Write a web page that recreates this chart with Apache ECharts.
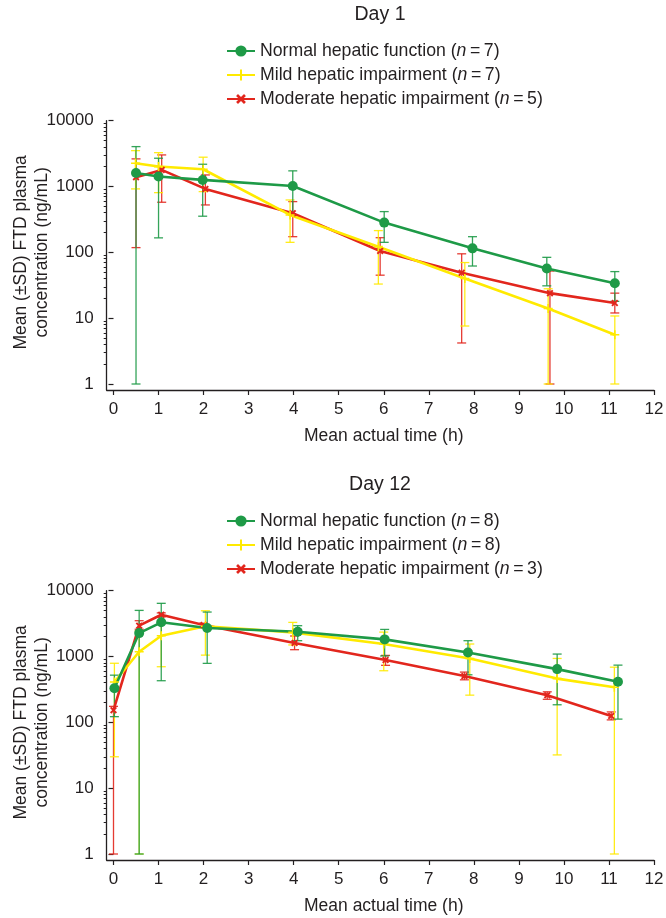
<!DOCTYPE html>
<html><head><meta charset="utf-8">
<script src="https://cdn.jsdelivr.net/npm/echarts@6/dist/echarts.min.js"></script>
<style>html,body{margin:0;padding:0;background:#fff}#c{width:666px;height:918px}</style>
</head><body><div id="c"></div>
<script>
// ---------- Tick values ----------
const xTickValues = [0,1,2,3,4,5,6,7,8,9,10,11,12];
const yTickValues = [1,10,100,1000,10000];
const yMinorTickValues = [2,3,4,5,6,7,8,9,20,30,40,50,60,70,80,90,200,300,400,500,600,700,800,900,2000,3000,4000,5000,6000,7000,8000,9000];

// ---------- Day 1 ----------
const d1NormalTime = [0.50, 1.00, 1.98, 3.98, 6.01, 7.97, 9.62, 11.13];
const d1NormalMean = [1600, 1420, 1260, 1020, 283, 115, 57, 34];
const d1NormalLow  = [1, 166, 354, 370, 142, 62, 31, 18];
const d1NormalHigh = [4040, 2690, 2180, 1730, 416, 173, 84, 51];

const d1MildTime = [0.49, 1.00, 1.99, 3.92, 5.88, 7.80, 9.65, 11.13];
const d1MildMean = [2260, 2010, 1830, 370, 122, 40, 14, 5.6];
const d1MildLow  = [920, 807, 837, 142, 33, 7.6, 1, 1];
const d1MildHigh = [3510, 3270, 2790, 625, 214, 70, 28, 10.8];

const d1ModTime = [0.50, 1.07, 2.04, 3.98, 5.92, 7.73, 9.69, 11.13];
const d1ModMean = [1385, 1790, 920, 393, 105, 49, 24, 17];
const d1ModLow  = [118, 577, 525, 173, 45, 4.2, 1, 12];
const d1ModHigh = [2630, 3020, 1500, 590, 167, 95, 52, 24];

// ---------- Day 12 ----------
const d12NormalTime = [0.02, 0.57, 1.06, 2.08, 4.09, 6.02, 7.87, 9.85, 11.20];
const d12NormalMean = [329, 2270, 3310, 2710, 2380, 1820, 1150, 644, 414];
const d12NormalLow  = [122, 1, 429, 787, 1740, 1020, 528, 185, 112];
const d12NormalHigh = [521, 5020, 6430, 4740, 2940, 2580, 1740, 1090, 740];

const d12MildTime = [0.02, 0.57, 1.06, 2.04, 3.98, 6.00, 7.91, 9.85, 11.12];
const d12MildMean = [410, 1180, 2070, 2880, 2330, 1550, 935, 462, 342];
const d12MildLow  = [30, 1, 700, 1050, 1500, 608, 259, 32, 1];
const d12MildHigh = [790, 2470, 3440, 4960, 3300, 2350, 1550, 935, 689];

const d12ModTime = [0.00, 0.57, 1.06, 2.00, 4.02, 6.04, 7.79, 9.63, 11.05];
const d12ModMean = [153, 2940, 4310, 3010, 1610, 885, 505, 259, 125];
const d12ModLow  = [1, 2600, 4000, 2800, 1270, 735, 443, 224, 109];
const d12ModHigh = [175, 3500, 4600, 3200, 2050, 1040, 580, 291, 144];

// ---------- Names ----------
const d1Names = ['Normal hepatic function (n = 7)', 'Mild hepatic impairment (n = 7)', 'Moderate hepatic impairment (n = 5)'];
const d12Names = ['Normal hepatic function (n = 8)', 'Mild hepatic impairment (n = 8)', 'Moderate hepatic impairment (n = 3)'];
const titles = ['Day 1', 'Day 12'];

const FONT = '"Liberation Sans", Arial, Helvetica, sans-serif';
const INK = '#231f20';
const GREEN = '#1e9a47', YELLOW = '#ffea00', RED = '#e2261d';
const PLUS = 'path://M-0.9,-5H0.9V-0.9H5V0.9H0.9V5H-0.9V0.9H-5V-0.9H-0.9Z';
const XMARK = 'path://M-1.2,-5H1.2V-1.2H5V1.2H1.2V5H-1.2V1.2H-5V-1.2H-1.2Z';

const OFF = 470;
const gridTop = 120.7, dataH = 263.3, frameH = 269.3;
const dataLeft = 113.5, frameLeft = 106.7, right = 12;

const grids = [], xAxes = [], yAxes = [], series = [], legends = [], titleOpts = [];

function buildPanel(p, names, groups) {
  const top = gridTop + p * OFF;
  const gi = grids.length;
  grids.push({left: dataLeft, right: right, top: top, height: dataH, outerBoundsMode: 'none', containLabel: false});
  grids.push({left: frameLeft, right: right, top: top, height: frameH, outerBoundsMode: 'none', containLabel: false});
  const xi = xAxes.length;
  xAxes.push({
    gridIndex: gi, type: 'value', min: 0, max: 12, interval: 1, offset: frameH - dataH,
    axisLine: {show: false},
    axisTick: {show: true, length: 5, lineStyle: {color: INK, width: 1.2}},
    axisLabel: {color: INK, fontSize: 17, fontFamily: FONT, margin: 11, formatter: v => String(v)},
    splitLine: {show: false},
    name: 'Mean actual time (h)', nameLocation: 'middle', nameGap: 37, nameMoveOverlap: false,
    nameTextStyle: {color: INK, fontSize: 17.5, fontFamily: FONT}
  });
  xAxes.push({gridIndex: gi + 1, type: 'value', min: 0, max: 1, axisLine: {show: true, lineStyle: {color: INK, width: 1.3}},
    axisTick: {show: false}, axisLabel: {show: false}, splitLine: {show: false}});
  const yi = yAxes.length;
  yAxes.push({
    gridIndex: gi, type: 'log', logBase: 10, min: 1, max: 10000, position: 'left', offset: dataLeft - frameLeft,
    axisLine: {show: false},
    axisTick: {show: true, length: 5, customValues: yTickValues, lineStyle: {color: INK, width: 1.2}},
    minorTick: {show: false},
    axisLabel: {color: INK, fontSize: 17, fontFamily: FONT, margin: 13, customValues: yTickValues, formatter: v => String(v)},
    splitLine: {show: false}, minorSplitLine: {show: false},
    name: 'Mean (\u00B1SD) FTD plasma\nconcentration (ng/mL)', nameLocation: 'middle', nameGap: 54, nameMoveOverlap: false,
    nameTextStyle: {color: INK, fontSize: 17.5, fontFamily: FONT, lineHeight: 21}
  });
  yAxes.push({gridIndex: gi + 1, type: 'value', min: 0, max: 1, axisLine: {show: true, lineStyle: {color: INK, width: 1.3}},
    axisTick: {show: false}, axisLabel: {show: false}, splitLine: {show: false}});
  // minor ticks axis (log, no line, no labels)
  yAxes.push({
    gridIndex: gi, type: 'log', logBase: 10, min: 1, max: 10000, position: 'left', offset: dataLeft - frameLeft,
    axisLine: {show: false}, axisLabel: {show: false}, splitLine: {show: false},
    axisTick: {show: true, length: 3, customValues: yMinorTickValues, lineStyle: {color: INK, width: 1}}
  });

  titleOpts.push({text: titles[p], left: 375, top: p * OFF, textAlign: 'center',
    textStyle: {fontSize: 19.5, fontWeight: 'normal', color: INK, fontFamily: FONT}});

  legends.push({
    orient: 'vertical', left: 221, top: 36 + p * OFF, itemWidth: 28, itemHeight: 14, itemGap: 4,
    data: names.slice(), selectedMode: false,
    textStyle: {fontSize: 17.7, lineHeight: 20, color: INK, fontFamily: FONT,
      rich: {i: {fontStyle: 'italic', fontSize: 17.7, lineHeight: 20, color: INK, fontFamily: FONT}}},
    formatter: n => n.replace('(n = ', '({i|n}\u2009=\u2009')
  });

  // draw order: moderate, mild, normal (normal on top)
  groups.slice().reverse().forEach(g => {
    const barData = g.time.map((t, i) => [t, g.low[i], g.high[i]]);
    series.push({
      type: 'custom', name: g.name + ' SD', xAxisIndex: xi, yAxisIndex: yi,
      data: barData, z: 2, silent: true,
      encode: {x: 0, y: [1, 2]},
      renderItem: (params, api) => {
        const x = api.value(0), lo = api.value(1), hi = api.value(2);
        const a = api.coord([x, lo]), b = api.coord([x, hi]);
        const hw = 4.5;
        const st = {stroke: g.color, lineWidth: 1.3, opacity: 0.9};
        return {type: 'group', children: [
          {type: 'line', shape: {x1: a[0], y1: a[1], x2: b[0], y2: b[1]}, style: st},
          {type: 'line', shape: {x1: a[0] - hw, y1: a[1], x2: a[0] + hw, y2: a[1]}, style: st},
          {type: 'line', shape: {x1: b[0] - hw, y1: b[1], x2: b[0] + hw, y2: b[1]}, style: st}
        ]};
      }
    });
    series.push({
      type: 'line', name: g.name, xAxisIndex: xi, yAxisIndex: yi, z: 3,
      data: g.time.map((t, i) => [t, g.mean[i]]),
      symbol: g.symbol, symbolSize: g.size, symbolRotate: g.rotate || 0, showSymbol: true,
      lineStyle: {color: g.color, width: 2.6},
      itemStyle: {color: g.color},
      emphasis: {disabled: true}, silent: true
    });
  });
}

buildPanel(0, d1Names, [
  {name: d1Names[0], color: GREEN, symbol: 'circle', size: 10, time: d1NormalTime, mean: d1NormalMean, low: d1NormalLow, high: d1NormalHigh},
  {name: d1Names[1], color: YELLOW, symbol: PLUS, size: 9, time: d1MildTime, mean: d1MildMean, low: d1MildLow, high: d1MildHigh},
  {name: d1Names[2], color: RED, symbol: XMARK, size: 8, rotate: 45, time: d1ModTime, mean: d1ModMean, low: d1ModLow, high: d1ModHigh}
]);
buildPanel(1, d12Names, [
  {name: d12Names[0], color: GREEN, symbol: 'circle', size: 10, time: d12NormalTime, mean: d12NormalMean, low: d12NormalLow, high: d12NormalHigh},
  {name: d12Names[1], color: YELLOW, symbol: PLUS, size: 9, time: d12MildTime, mean: d12MildMean, low: d12MildLow, high: d12MildHigh},
  {name: d12Names[2], color: RED, symbol: XMARK, size: 8, rotate: 45, time: d12ModTime, mean: d12ModMean, low: d12ModLow, high: d12ModHigh}
]);

const chart = echarts.init(document.getElementById('c'), null, {renderer: 'canvas'});
chart.setOption({
  animation: false,
  backgroundColor: '#fff',
  title: titleOpts,
  legend: legends,
  grid: grids,
  xAxis: xAxes,
  yAxis: yAxes,
  series: series
});
</script>
</body></html>
